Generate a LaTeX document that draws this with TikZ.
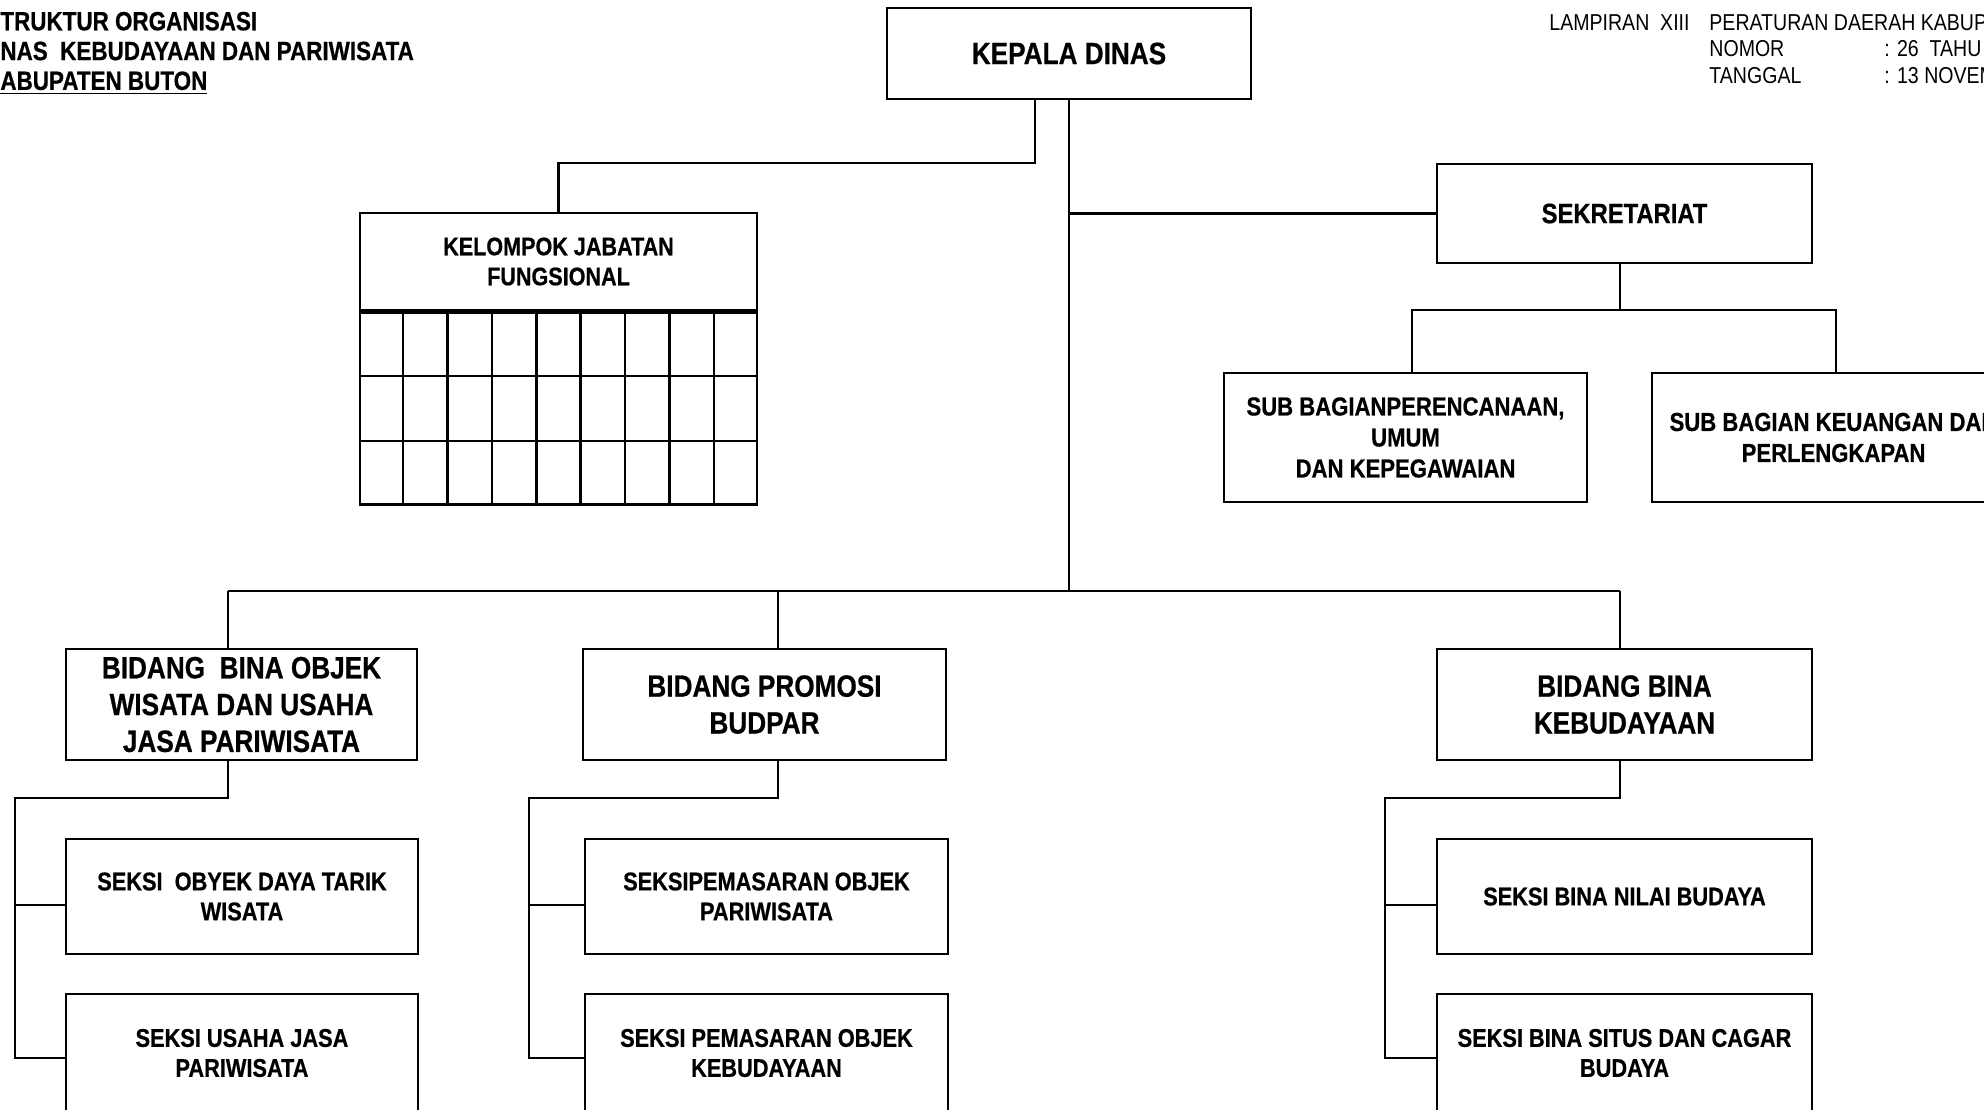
\documentclass[tikz,border=0pt]{standalone}
\usepackage{fontspec}
\setmainfont{Liberation Sans}[FakeStretch=0.85, BoldFeatures={FakeBold=0.6}]
\usetikzlibrary{calc}
\begin{document}
\begin{tikzpicture}[x=0.5pt,y=-0.5pt,
  box/.style={draw, line width=1.2pt, align=center, inner sep=0pt, font=\bfseries},
  ln/.style={line width=1.2pt},
  bigf/.style={font=\bfseries\fontsize{15.4}{18.4}\selectfont},
  secf/.style={font=\bfseries\fontsize{14}{17}\selectfont},
  smallf/.style={font=\bfseries\fontsize{12.8}{15}\selectfont},
  subf/.style={font=\bfseries\fontsize{13}{15.5}\selectfont},
  hdr/.style={inner sep=0pt, anchor=west, font=\fontsize{11.5}{13.5}\selectfont}
]
\useasboundingbox (0,0) rectangle (1984,1109);
\fill[white] (0,0) rectangle (1984,1109);

% header texts
\node[inner sep=0pt, anchor=west, align=left, font=\bfseries\fontsize{13.2}{14.9}\selectfont] (title) at (0,53)
  {TRUKTUR ORGANISASI\\NAS\ \ KEBUDAYAAN DAN PARIWISATA\\\underline{ABUPATEN BUTON}};
\node[hdr] (lamp) at (1549,23) {LAMPIRAN\ \ XIII};
\node[hdr] (perda) at (1709,23) {PERATURAN DAERAH KABUP};
\node[hdr] (nomor) at (1709,49) {NOMOR};
\node[hdr] (nomorv) at (1884,49) {: 26\ \ TAHU};
\node[hdr] (tgl) at (1709,76) {TANGGAL};
\node[hdr] (tglv) at (1884,76) {: 13 NOVEM};

% boxes
\node[box, bigf, minimum width=182pt, minimum height=45.5pt] (kepala) at (1069,53.5) {KEPALA DINAS};
\node[box, font=\bfseries\fontsize{12.7}{15}\selectfont, minimum width=198.5pt, minimum height=48.5pt] (kjf) at (558.5,261.5) {KELOMPOK JABATAN\\FUNGSIONAL};
\node[box, minimum width=198.5pt, minimum height=96pt, anchor=north] (grid) at (kjf.south) {};
\foreach \i in {1,...,8}
  \draw[ln] ($(grid.north west)!\i/9!(grid.north east)$) -- ($(grid.south west)!\i/9!(grid.south east)$);
\foreach \j in {1,2}
  \draw[ln] ($(grid.north west)!\j/3!(grid.south west)$) -- ($(grid.north east)!\j/3!(grid.south east)$);

\node[box, secf, minimum width=187.5pt, minimum height=49.5pt] (sek) at (1624.5,213.5) {SEKRETARIAT};
\node[box, subf, minimum width=181.5pt, minimum height=64.5pt] (sub1) at (1405.5,437.5) {SUB BAGIANPERENCANAAN,\\UMUM\\DAN KEPEGAWAIAN};
\node[box, subf, minimum width=181.5pt, minimum height=64.5pt] (sub2) at (1833.5,437.5) {SUB BAGIAN KEUANGAN DAN\\PERLENGKAPAN};

\node[box, bigf, minimum width=175.5pt, minimum height=55.5pt] (bid1) at (241.5,704.5) {BIDANG\ \ BINA OBJEK\\WISATA DAN USAHA\\JASA PARIWISATA};
\node[box, bigf, minimum width=181.5pt, minimum height=55.5pt] (bid2) at (764.5,704.5) {BIDANG PROMOSI\\BUDPAR};
\node[box, bigf, minimum width=187.5pt, minimum height=55.5pt] (bid3) at (1624.5,704.5) {BIDANG BINA\\KEBUDAYAAN};

\node[box, smallf, minimum width=176pt, minimum height=57.5pt] (s11) at (242,896.5) {SEKSI\ \ OBYEK DAYA TARIK\\WISATA};
\node[box, smallf, minimum width=176pt, minimum height=59pt] (s12) at (242,1053) {SEKSI USAHA JASA\\PARIWISATA};
\node[box, smallf, minimum width=181.5pt, minimum height=57.5pt] (s21) at (766.5,896.5) {SEKSIPEMASARAN OBJEK\\PARIWISATA};
\node[box, smallf, minimum width=181.5pt, minimum height=59pt] (s22) at (766.5,1053) {SEKSI PEMASARAN OBJEK\\KEBUDAYAAN};
\node[box, smallf, minimum width=187.5pt, minimum height=57.5pt] (s31) at (1624.5,896.5) {SEKSI BINA NILAI BUDAYA};
\node[box, smallf, minimum width=187.5pt, minimum height=59pt] (s32) at (1624.5,1053) {SEKSI BINA SITUS DAN CAGAR\\BUDAYA};

% junction coordinates
\coordinate (kb) at (1035,163);
\coordinate (m1) at (1069,591);
\coordinate (a1) at (228,591);
\coordinate (a2) at (778,591);
\coordinate (a3) at (1620,591);
\coordinate (b1) at (15,798);
\coordinate (b2) at (529,798);
\coordinate (b3) at (1385,798);
\coordinate (sb) at (1620,310);
\coordinate (sl) at (1412,310);
\coordinate (sr) at (1836,310);
\coordinate (r1) at (0,905);
\coordinate (r2) at (0,1058);

% connectors
\draw[ln] (kb |- kepala.south) -- (kb) -| (kjf.north);
\draw[ln] (kepala.south) -- (m1);
\draw[ln] (kepala.south |- sek.west) -- (sek.west);
\draw[ln] (sek.south -| sb) -- (sb);
\draw[ln] (sl |- sub1.north) -- (sl) -- (sr) -- (sr |- sub2.north);
\draw[ln] (a1) -- (a3);
\draw[ln] (a1) -- (a1 |- bid1.north);
\draw[ln] (a2) -- (a2 |- bid2.north);
\draw[ln] (a3) -- (a3 |- bid3.north);

\draw[ln] (a1 |- bid1.south) |- (b1) |- (s12.west |- r2) -- (s12.west |- r2);
\draw[ln] (b1 |- r1) -- (s11.west |- r1);
\draw[ln] (a2 |- bid2.south) |- (b2) |- (s22.west |- r2);
\draw[ln] (b2 |- r1) -- (s21.west |- r1);
\draw[ln] (a3 |- bid3.south) |- (b3) |- (s32.west |- r2);
\draw[ln] (b3 |- r1) -- (s31.west |- r1);
\end{tikzpicture}
\end{document}
